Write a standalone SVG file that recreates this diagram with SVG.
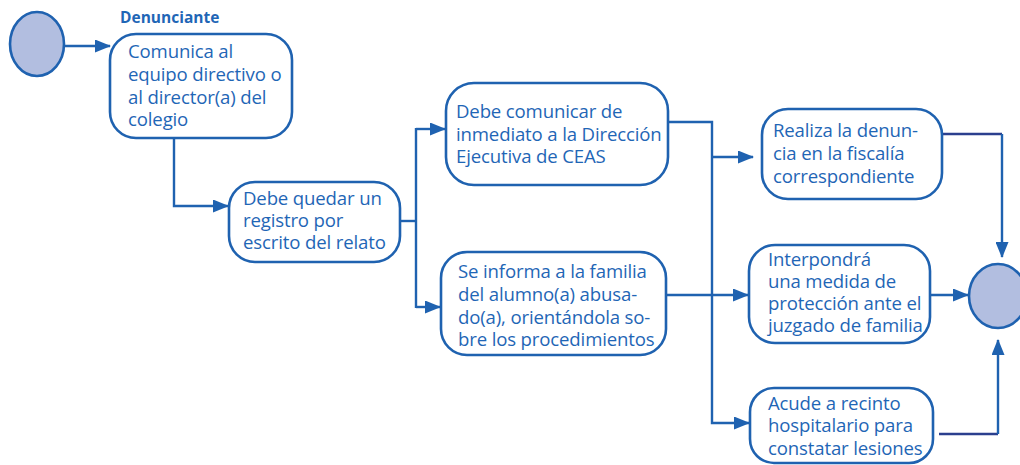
<svg xmlns="http://www.w3.org/2000/svg" width="1020" height="465" viewBox="0 0 1020 465">
<defs>
<marker id="ah" markerWidth="16" markerHeight="13" refX="15" refY="6.5" orient="auto" markerUnits="userSpaceOnUse" viewBox="0 0 16 13">
<path d="M0,0 L16,6.5 L0,13 z" fill="#1f62b0"/>
</marker>
<style>
.box{fill:#fff;stroke:#1f62b0;stroke-width:2.6}
.circ{fill:#b2bee0;stroke:#1f62b0;stroke-width:2.6}
.t{font-family:"Open Sans","Liberation Sans",sans-serif;font-size:18.6px;letter-spacing:-0.15px;fill:#1f66b6}
.c{fill:none;stroke:#1f62b0;stroke-width:2.4}
.d{fill:none;stroke:#2b3f8e;stroke-width:2.6}
</style>
</defs>
<text x="120" y="23" style="font-family:'Open Sans','Liberation Sans',sans-serif;font-size:15.5px;font-weight:bold;fill:#1f66b6">Denunciante</text>
<g id="connectors">
<path class="c" d="M65,46 H110" marker-end="url(#ah)"/>
<path class="c" d="M174,138 V206 H228" marker-end="url(#ah)"/>
<path class="c" d="M400,221 H416"/>
<path class="c" d="M416,128 V308"/>
<path class="c" d="M416,129 H445" marker-end="url(#ah)"/>
<path class="c" d="M416,307 H440" marker-end="url(#ah)"/>
<path class="c" d="M668,122 H712 V423 H749" marker-end="url(#ah)"/>
<path class="c" d="M712,157 H753" marker-end="url(#ah)"/>
<path class="c" d="M666,295 H748" marker-end="url(#ah)"/>
<path class="c" d="M930,295 H968" marker-end="url(#ah)"/>
<path class="d" d="M942,134 H1002"/>
<path class="c" d="M1002,134 V257" marker-end="url(#ah)"/>
<path class="d" d="M939,434 H998"/>
<path class="c" d="M998,434 V340" marker-end="url(#ah)"/>
</g>
<g id="start"><ellipse class="circ" cx="37" cy="44" rx="27" ry="32"/></g>
<g id="end"><ellipse class="circ" cx="998" cy="296" rx="29" ry="32"/></g>
<g id="n1">
<rect class="box" x="110" y="34" width="182" height="104" rx="26"/>
<text class="t"><tspan x="128" y="58">Comunica al</tspan><tspan x="128" y="81">equipo directivo o</tspan><tspan x="128" y="104">al director(a) del</tspan><tspan x="128" y="126">colegio</tspan></text>
</g>
<g id="n2">
<rect class="box" x="229" y="182" width="171" height="80" rx="26"/>
<text class="t"><tspan x="243" y="205">Debe quedar un</tspan><tspan x="243" y="227">registro por</tspan><tspan x="243" y="249">escrito del relato</tspan></text>
</g>
<g id="n3">
<rect class="box" x="446" y="83" width="222" height="102" rx="28"/>
<text class="t"><tspan x="456" y="118">Debe comunicar de</tspan><tspan x="456" y="141">inmediato a la Dirección</tspan><tspan x="456" y="163">Ejecutiva de CEAS</tspan></text>
</g>
<g id="n4">
<rect class="box" x="441" y="252" width="225" height="103" rx="26"/>
<text class="t"><tspan x="458" y="278">Se informa a la familia</tspan><tspan x="458" y="301">del alumno(a) abusa-</tspan><tspan x="458" y="324">do(a), orientándola so-</tspan><tspan x="458" y="346">bre los procedimientos</tspan></text>
</g>
<g id="n5">
<rect class="box" x="762" y="109" width="180" height="90" rx="26"/>
<text class="t"><tspan x="773" y="137">Realiza la denun-</tspan><tspan x="773" y="160">cia en la fiscalía</tspan><tspan x="773" y="183">correspondiente</tspan></text>
</g>
<g id="n6">
<rect class="box" x="749" y="245" width="181" height="98" rx="26"/>
<text class="t"><tspan x="768" y="266">Interpondrá</tspan><tspan x="768" y="288">una medida de</tspan><tspan x="768" y="310">protección ante el</tspan><tspan x="768" y="332">juzgado de familia</tspan></text>
</g>
<g id="n7">
<rect class="box" x="750" y="388" width="183" height="75" rx="24"/>
<text class="t"><tspan x="768" y="410">Acude a recinto</tspan><tspan x="768" y="432">hospitalario para</tspan><tspan x="768" y="455">constatar lesiones</tspan></text>
</g>
</svg>
